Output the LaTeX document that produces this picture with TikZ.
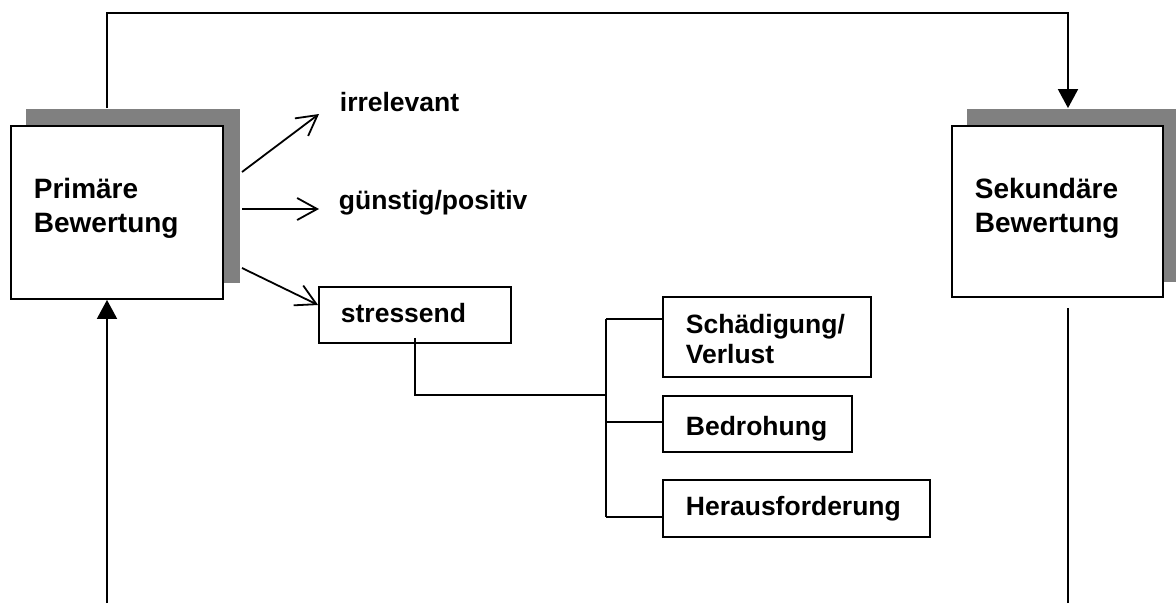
\documentclass[tikz,border=0pt]{standalone}
\usepackage{fontspec}
\setmainfont{Liberation Sans}
\usetikzlibrary{arrows.meta}
\definecolor{shadowgray}{RGB}{128,128,128}
\begin{document}
\begin{tikzpicture}[x=1pt,y=-1pt,line width=1.8pt,
  frame/.style={draw=black,fill=white,line width=1.8pt,inner sep=0pt},
  shadowbox/.style={fill=shadowgray,draw=none,inner sep=0pt},
  lbl/.style={anchor=base west,inner sep=0pt,font=\bfseries\fontsize{26.5}{30}\selectfont},
  biglbl/.style={anchor=base west,inner sep=0pt,font=\bfseries\fontsize{28}{34}\selectfont},
  openarrow/.style={-{Straight Barb[length=20pt,width=22pt]}},
  solidarrow/.style={-{Triangle[length=19pt,width=20pt]}}]
\useasboundingbox (0,0) rectangle (1176,603);

% appraisal boxes with their offset shadows
\node[shadowbox,minimum width=214pt,minimum height=174pt] (psh) at (133,196) {};
\node[frame,minimum width=212pt,minimum height=173pt] (prim) at (117,212.5) {};
\node[biglbl] (prim1) at (33,198) {Primäre};
\node[biglbl] (prim2) at (33,232) {Bewertung};

\node[shadowbox,minimum width=214pt,minimum height=173pt] (ssh) at (1074,195.5) {};
\node[frame,minimum width=211pt,minimum height=171pt] (sek) at (1057.5,211.5) {};
\node[biglbl] (sek1) at (974,198) {Sekundäre};
\node[biglbl] (sek2) at (974,232) {Bewertung};

% outcomes of the primary appraisal
\node[lbl] (irr) at (339,111.7) {irrelevant};
\node[lbl] (pos) at (338,209) {günstig/positiv};
\node[frame,minimum width=192pt,minimum height=56pt] (str) at (415,315) {};
\node[lbl] (strt) at (340,322.7) {stressend};

\coordinate (o1) at (242,172);
\coordinate (o2) at (242,209);
\coordinate (o3) at (242,268);
\coordinate (t1) at (319,114);
\coordinate (t2) at (319,209);
\draw[openarrow] (o1) -- (t1);
\draw[openarrow] (o2) -- (t2);
\draw[openarrow] (o3) -- (str.west |- 0,305);

% kinds of stressful appraisal
\node[frame,minimum width=208pt,minimum height=80pt] (sch) at (767,337) {};
\node[lbl] (sch1) at (685,333) {Schädigung/};
\node[lbl] (sch2) at (685,363) {Verlust};
\node[frame,minimum width=189pt,minimum height=56pt] (bed) at (757.5,424) {};
\node[lbl] (bedt) at (685,435) {Bedrohung};
\node[frame,minimum width=267pt,minimum height=57pt] (her) at (796.5,508.5) {};
\node[lbl] (hert) at (685,515.7) {Herausforderung};

\coordinate (j0) at (606,395);
\coordinate (b1) at (606,319);
\coordinate (b2) at (606,422);
\coordinate (b3) at (606,517);
\draw ([yshift=6pt]str.south) |- (j0);
\draw (b1) -- (b3);
\draw (b1) -- (b1 -| sch.west);
\draw (b2) -- (b2 -| bed.west);
\draw (b3) -- (b3 -| her.west);

% feedback loop between the appraisals
\coordinate (tl) at (107,13);
\coordinate (tr) at (1068,13);
\draw[solidarrow] (tl |- psh.north) -- (tl) -- (tr) -- (tr |- ssh.north);
\coordinate (pb) at (107,603);
\draw[solidarrow] (pb) -- (pb |- prim.south);
\coordinate (sb) at (1068,603);
\coordinate (sbt) at (1068,308);
\draw (sb) -- (sbt);
\end{tikzpicture}
\end{document}
